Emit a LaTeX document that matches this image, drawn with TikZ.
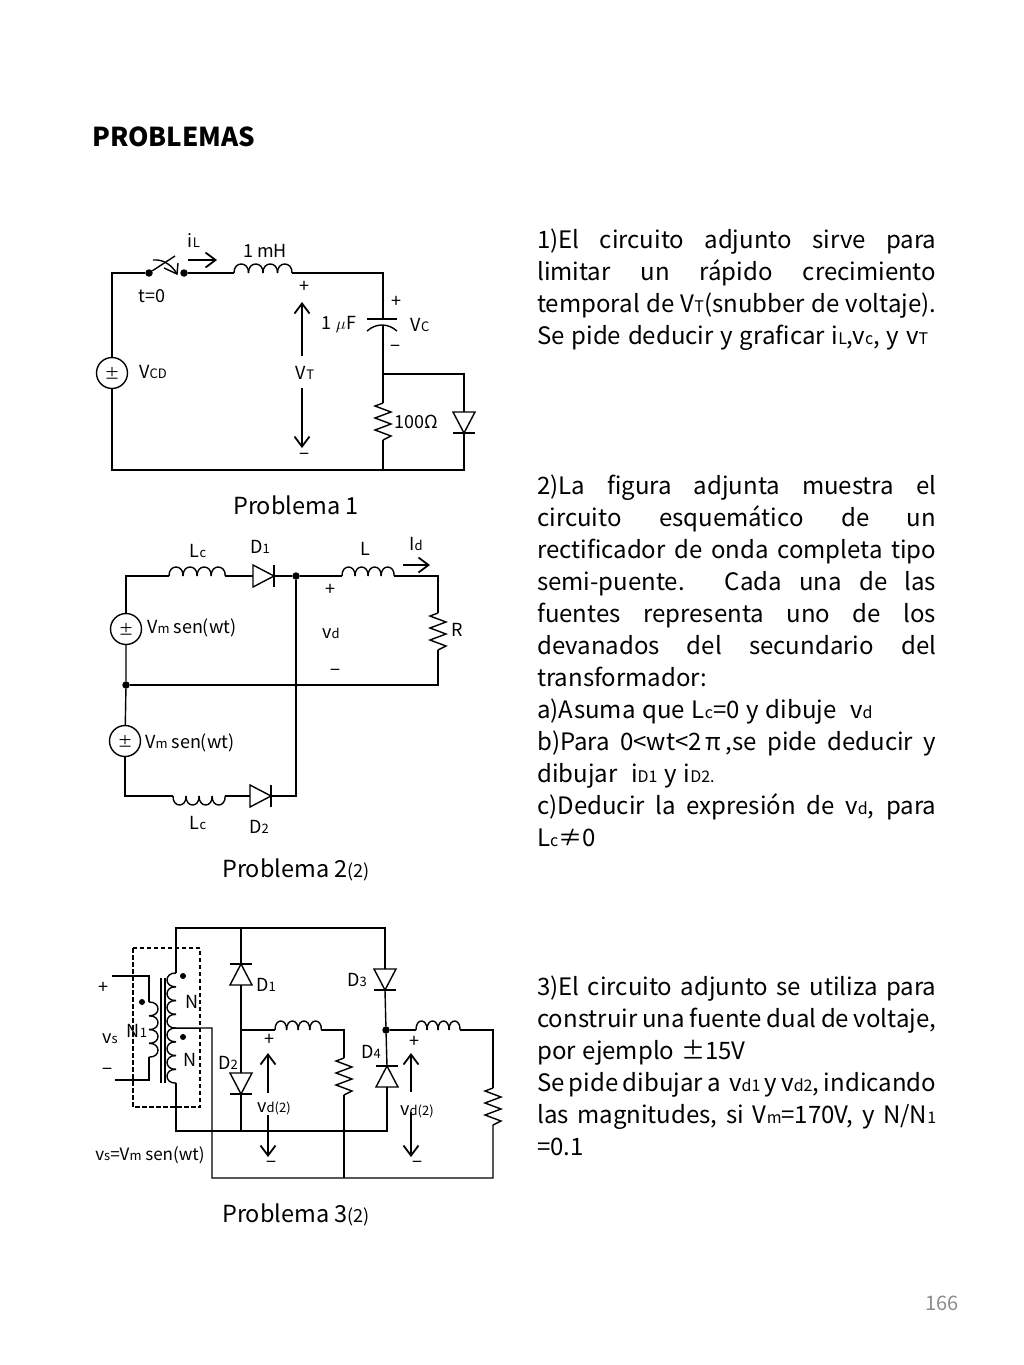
\documentclass[tikz,border=0pt]{standalone}
\usepackage{fontspec}
\setmainfont{Noto Sans CJK JP}
\usetikzlibrary{arrows.meta}
\newcommand{\subt}[1]{{\fontsize{16}{16}\selectfont #1}}
\newcommand{\subs}[1]{{\fontsize{13}{13}\selectfont #1}}
\newcommand{\pspace}{\tolerance=9999 \spaceskip=6.8pt plus 40pt minus 3.5pt\relax}
\tikzset{
	wire/.style={line width=1.4pt},
	lbl/.style={inner sep=0pt,font=\fontsize{18}{20}\selectfont},
	title/.style={inner sep=0pt,anchor=base west,font=\fontsize{23.5}{28}\selectfont},
	para/.style={inner sep=0pt,anchor=north west,text width=399pt,align=justify,font=\fontsize{24}{32}\selectfont},
	vsrc/.style={draw,circle,line width=1.4pt,minimum size=31pt,inner sep=0pt,font=\fontsize{15}{15}\selectfont},
	dot/.style={fill,circle,minimum size=7.5pt,inner sep=0pt},
	volt/.style={line width=1.8pt,-{Straight Barb[length=10pt,width=15pt,line width=1.8pt]}},
	coil/.pic={
			\foreach \k in {0,1,2,3} {
					\draw[wire] ({\k*\coilw},0) .. controls ({\k*\coilw-0.5},-12) and ({(\k+1)*\coilw+0.5},-12) .. ({(\k+1)*\coilw},0);
				}
			\coordinate (-in) at (0,0);
			\coordinate (-out) at ({4*\coilw},0);
		},
	diode/.pic={
			\draw[wire] (0,-11) -- (0,11) -- (21,0) -- cycle;
			\draw[wire] (21,-11) -- (21,11);
			\coordinate (-a) at (0,0);
			\coordinate (-k) at (21,0);
		},
	res/.pic={
			\draw[wire] (0,0) -- (-8,3) -- (8,9) -- (-8,15) -- (8,21) -- (-8,27) -- (8,33) -- (0,37);
			\coordinate (-top) at (0,0);
			\coordinate (-bot) at (0,37);
		}
}
\newcommand{\coilw}{14.5}
\begin{document}
\begin{tikzpicture}[x=1pt,y=-1pt]
	\path[use as bounding box,fill=white] (0,0) rectangle (1024,1365);

	\node[inner sep=0pt,anchor=west,font=\fontsize{26}{28}\selectfont\bfseries] (head) at (92,137) {PROBLEMAS};
	\node[inner sep=0pt,text=black!45,font=\fontsize{20}{24}\selectfont] (page) at (942,1303) {166};

	% problema 1
	\node[vsrc] (VCD) at (112,373) {±};
	\node[dot] (swa) at (149,273) {};
	\node[dot] (swb) at (184,273) {};
	\coordinate (swtip) at (175,256);
	\pic (L1) at (234,273) {coil};
	\coordinate (tl1) at (112,273);
	\coordinate (tr1) at (383,273);
	\coordinate (bl1) at (112,470);
	\coordinate (bm1) at (383,470);
	\coordinate (br1) at (464,470);
	\coordinate (capa) at (383,319);
	\coordinate (capb) at (383,326);
	\coordinate (j1) at (383,374);
	\coordinate (jr1) at (464,374);
	\pic (R1) at (383,403) {res};
	\pic[rotate=-90] (D5) at (464,412) {diode};

	\draw[wire] (VCD) -- (tl1) -- (swa);
	\draw[wire] (swa) -- (swtip);
	\draw[wire] (153,260) .. controls (163,259) and (172,265) .. (177,274);
	\draw[wire] (164,268) -- (177,274) -- (178,263);
	\draw[wire] (swb) -- (L1-in);
	\draw[wire] (L1-out) -- (tr1) -- (capa);
	\draw[wire] (367,319) -- (397,319);
	\draw[wire] (367,331) .. controls (376,323) and (388,323) .. (397,331);
	\draw[wire] (capb) -- (j1) -- (R1-top);
	\draw[wire] (j1) -- (jr1) -- (D5-a);
	\draw[wire] (D5-k) -- (br1) -- (bl1) -- (VCD);
	\draw[wire] (R1-bot) -- (bm1);

	\node[lbl] (iL) at (194,241) {i\subs{L}};
	\node[lbl] (L1val) at (265,251) {1 mH};
	\node[lbl] (t0) at (152,296) {t=0};
	\node[lbl] (Cval) at (339,325) {1 $\mu$F};
	\node[lbl] (cplus) at (396,302) {+};
	\node[lbl] (cminus) at (395,349) {−};
	\node[lbl] (Vc) at (420,325) {V\subs{C}};
	\node[lbl,anchor=west] (VCDl) at (139,372) {V\subs{CD}};
	\node[lbl,anchor=west] (Rval) at (394,422) {100Ω};
	\node[lbl] (Tplus) at (304,287) {+};
	\node[lbl] (VT) at (305,373) {V\subs{T}};
	\node[lbl] (Tminus) at (304,457) {−};
	\coordinate (iLa) at (188,260);
	\coordinate (iLb) at (217,260);
	\coordinate (vta) at (302,356);
	\coordinate (vtb) at (302,302);
	\coordinate (vtc) at (302,388);
	\coordinate (vtd) at (302,448);
	\draw[volt] (iLa) -- (iLb);
	\draw[volt] (vta) -- (vtb);
	\draw[volt] (vtc) -- (vtd);
	\node[title] (P1) at (233,514) {Problema 1};

	% problema 2
	\node[vsrc] (V1) at (126,629) {±};
	\node[vsrc] (V2) at (125,741) {±};
	\node[dot] (j2a) at (126,685) {};
	\node[dot] (j2b) at (296,576) {};
	\pic (Lc1) at (169,576) [xscale=0.97] {coil};
	\pic (Lc2) at (173,796) [xscale=0.9,yscale=-1] {coil};
	\pic (L2) at (342,576) [xscale=0.9] {coil};
	\pic (D1) at (253,576) {diode};
	\pic (D2) at (250,796) {diode};
	\pic (R2) at (438,613) {res};
	\coordinate (a1) at (126,576);
	\coordinate (a2) at (125,796);
	\coordinate (a3) at (296,796);
	\coordinate (a4) at (438,576);
	\coordinate (a5) at (438,685);
	\draw[wire] (V1) -- (a1) -- (Lc1-in);
	\draw[wire] (Lc1-out) -- (D1-a);
	\draw[wire] (D1-k) -- (j2b) -- (L2-in);
	\draw[wire] (L2-out) -- (a4) -- (R2-top);
	\draw[wire] (R2-bot) -- (a5) -- (j2a);
	\draw[wire] (V1) -- (j2a) -- (V2);
	\draw[wire] (V2) -- (a2) -- (Lc2-in);
	\draw[wire] (Lc2-out) -- (D2-a);
	\draw[wire] (D2-k) -- (a3) -- (j2b);
	\coordinate (Ida) at (403,565);
	\coordinate (Idb) at (430,565);
	\draw[volt] (Ida) -- (Idb);

	\node[lbl] (Lc1l) at (198,551) {L\subs{c}};
	\node[lbl] (D1l) at (260,547) {D\subs{1}};
	\node[lbl] (L2l) at (365,549) {L};
	\node[lbl] (Idl) at (416,544) {I\subs{d}};
	\node[lbl] (dplus) at (330,590) {+};
	\node[lbl] (vdl) at (331,633) {v\subs{d}};
	\node[lbl] (dminus) at (335,673) {−};
	\node[lbl] (Rl) at (457,630) {R};
	\node[lbl,anchor=west] (V1l) at (147,628) {V\subs{m} sen(wt)};
	\node[lbl,anchor=west] (V2l) at (145,743) {V\subs{m} sen(wt)};
	\node[lbl] (Lc2l) at (198,823) {L\subs{c}};
	\node[lbl] (D2l) at (259,827) {D\subs{2}};
	\node[title] (P2) at (222,877) {Problema 2{\fontsize{18}{18}\selectfont (2)}};

	% problema 3
	\draw[wire,dash pattern=on 4.5pt off 2.5pt] (133,948) rectangle (200,1107);
	\pic[rotate=-90,xscale=0.95] (Np) at (149,1002) {coil};
	\pic[rotate=-90,xscale=0.95,yscale=-1] (Ns1) at (176,973) {coil};
	\pic[rotate=-90,xscale=0.95,yscale=-1] (Ns2) at (176,1028) {coil};
	\draw[wire] (161,978) -- (161,1083);
	\draw[wire] (165,978) -- (165,1083);
	\node[dot,minimum size=6pt] (dp) at (142,1002) {};
	\node[dot,minimum size=6pt] (ds1) at (183,976) {};
	\node[dot,minimum size=6pt] (ds2) at (183,1037) {};
	\coordinate (pa) at (112,976);
	\coordinate (pb) at (149,976);
	\coordinate (pc) at (115,1080);
	\coordinate (pd) at (149,1080);
	\draw[wire] (pa) -- (pb) -- (Np-in);
	\draw[wire] (pc) -- (pd) -- (Np-out);

	\coordinate (top0) at (176,928);
	\coordinate (top1) at (241,928);
	\coordinate (top2) at (385,928);
	\coordinate (mid0) at (212,1028);
	\coordinate (mid1) at (212,1178);
	\coordinate (low0) at (176,1131);
	\coordinate (low1) at (241,1131);
	\coordinate (low2) at (387,1131);
	\coordinate (j3) at (241,1030);
	\node[dot] (j4) at (386,1030) {};
	\coordinate (r3a) at (344,1030);
	\coordinate (r3b) at (344,1178);
	\coordinate (r4a) at (493,1030);
	\coordinate (r4b) at (493,1178);
	\pic[rotate=90] (D1b) at (241,985) {diode};
	\pic[rotate=-90] (D2b) at (241,1073) {diode};
	\pic[rotate=-90] (D3b) at (385,969) {diode};
	\pic[rotate=90] (D4b) at (387,1087) {diode};
	\pic (L3) at (275,1030) [xscale=0.8] {coil};
	\pic (L4) at (416,1030) [xscale=0.76] {coil};
	\pic (R3) at (344,1058) {res};
	\pic (R4) at (493,1088) {res};

	\draw[wire] (Ns1-in) -- (top0) -- (top1) -- (top2) -- (D3b-a);
	\draw[wire] (top1) -- (D1b-k);
	\draw[wire] (D1b-a) -- (j3) -- (D2b-a);
	\draw[wire] (D2b-k) -- (low1);
	\draw[wire] (Ns2-out) -- (low0) -- (low2) -- (D4b-a);
	\draw[wire] (Ns1-out) -- (mid0) -- (mid1) -- (r4b) -- (R4-bot);
	\draw[wire] (j3) -- (L3-in);
	\draw[wire] (L3-out) -- (r3a) -- (R3-top);
	\draw[wire] (R3-bot) -- (r3b);
	\draw[wire] (D3b-k) -- (j4) -- (D4b-k);
	\draw[wire] (j4) -- (L4-in);
	\draw[wire] (L4-out) -- (r4a) -- (R4-top);

	\node[lbl] (plus3) at (103,988) {+};
	\node[lbl] (vs) at (110,1039) {v\subs{s}};
	\node[lbl] (minus3) at (107,1072) {−};
	\node[lbl] (N1l) at (137,1031) {N\subs{1}};
	\node[lbl] (N1a) at (192,1002) {N};
	\node[lbl] (N2a) at (190,1060) {N};
	\node[lbl] (D1bl) at (266,985) {D\subs{1}};
	\node[lbl] (D2bl) at (228,1063) {D\subs{2}};
	\node[lbl] (D3bl) at (357,980) {D\subs{3}};
	\node[lbl] (D4bl) at (371,1052) {D\subs{4}};
	\node[lbl,font=\fontsize{17}{20}\selectfont] (vsl) at (150,1155) {v\subs{s}=V\subs{m} sen(wt)};
	\node[lbl] (vd1) at (274,1108) {v\subs{d(2)}};
	\node[lbl] (vd2) at (417,1111) {v\subs{d(2)}};
	\node[lbl] (vd1p) at (269,1040) {+};
	\node[lbl] (vd1m) at (271,1165) {−};
	\node[lbl] (vd2p) at (414,1042) {+};
	\node[lbl] (vd2m) at (417,1165) {−};
	\coordinate (v1a) at (268,1093);
	\coordinate (v1b) at (268,1053);
	\coordinate (v1c) at (268,1115);
	\coordinate (v1d) at (268,1157);
	\coordinate (v2a) at (411,1092);
	\coordinate (v2b) at (411,1053);
	\coordinate (v2c) at (411,1112);
	\coordinate (v2d) at (411,1157);
	\draw[volt] (v1a) -- (v1b);
	\draw[volt] (v1c) -- (v1d);
	\draw[volt] (v2a) -- (v2b);
	\draw[volt] (v2c) -- (v2d);
	\node[title] (P3) at (222,1222) {Problema 3{\fontsize{18}{18}\selectfont (2)}};

	% textos
	\node[para] (txt1) at (537,229) {\pspace 1)El circuito adjunto sirve para\linebreak
		limitar un rápido crecimiento\linebreak
		temporal de V\subt{T}(snubber de voltaje).\linebreak
		Se pide deducir y graficar i\subt{L},v\subt{c}, y v\subt{T}};
	\node[para] (txt2) at (537,475) {\pspace 2)La figura adjunta muestra el\linebreak
		circuito esquemático de un\linebreak
		rectificador de onda completa tipo\linebreak
		semi-puente. Cada una de las\linebreak
		fuentes representa uno de los\linebreak
		devanados del secundario del\linebreak
		transformador:\\
		a)Asuma que L\subt{c}=0 y dibuje \ v\subt{d}\\
		b)Para 0<wt<2\,π\,,se pide deducir y\linebreak
		dibujar \ i\subt{D1} y i\subt{D2.}\\
		c)Deducir la expresión de v\subt{d}, para\linebreak
		L\subt{c}≠0};
	\node[para] (txt3) at (537,976) {\pspace 3)El circuito adjunto se utiliza para\linebreak
		construir una fuente dual de voltaje,\linebreak
		por ejemplo ±15V\\
		Se pide dibujar a \ v\subt{d1} y v\subt{d2}, indicando\linebreak
		las magnitudes, si V\subt{m}=170V, y N/N\subt{1}\linebreak
		=0.1};
\end{tikzpicture}
\end{document}
